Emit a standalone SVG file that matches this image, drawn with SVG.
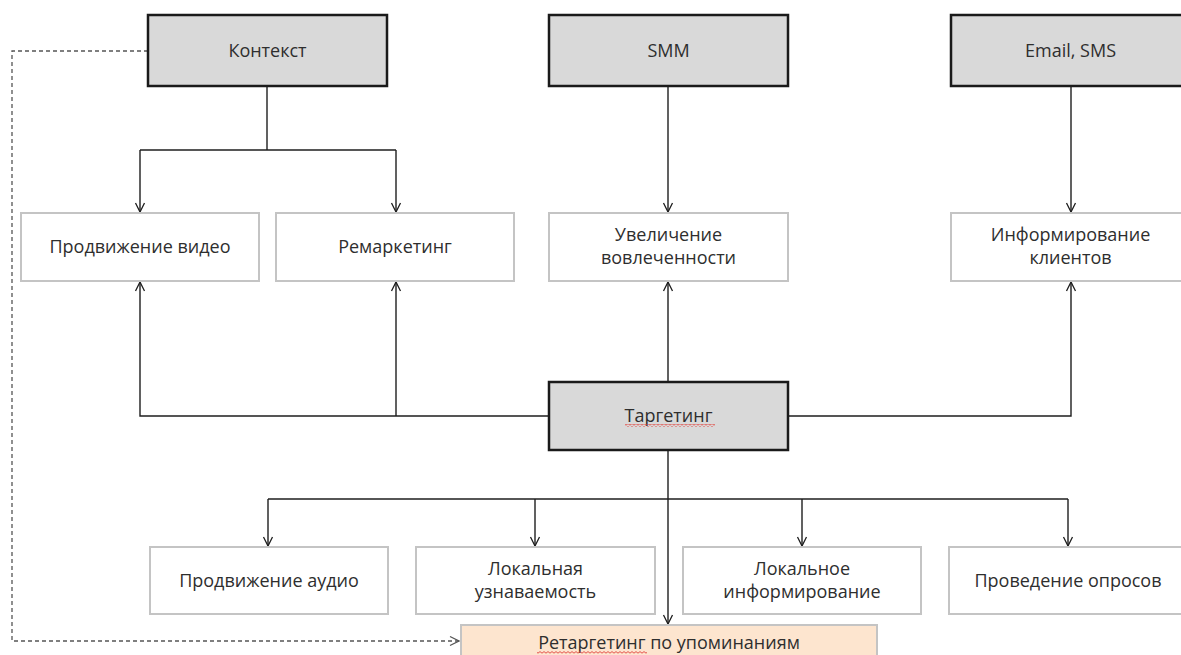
<svg xmlns="http://www.w3.org/2000/svg" width="1181" height="655" viewBox="0 0 1181 655">
  <style>
    .main rect { fill: #d9d9d9; stroke: #1a1a1a; stroke-width: 2.5; }
    .item rect { fill: #ffffff; stroke: #c4c4c4; stroke-width: 2; }
    .accent rect { fill: #fde5cf; stroke: #c4c4c4; stroke-width: 2; }
    text { font-family: "Open Sans", "Liberation Sans", sans-serif; font-size: 18px; fill: #2e2e2e; text-anchor: middle; }
    .wire { fill: none; stroke: #1e1e1e; stroke-width: 1.4; }
    .dash { fill: none; stroke: #555555; stroke-width: 1.3; stroke-dasharray: 4 3; }
    rect.spell { fill: url(#wave); stroke: none; }
  </style>
  <defs>
    <marker id="open" viewBox="0 0 12 12" refX="11" refY="6" markerWidth="12" markerHeight="12" markerUnits="userSpaceOnUse" orient="auto">
      <polyline points="2,1.5 11,6 2,10.5" fill="none" stroke="#1e1e1e" stroke-width="1.3"/>
    </marker>
    <marker id="openGrey" viewBox="0 0 12 12" refX="11" refY="6" markerWidth="12" markerHeight="12" markerUnits="userSpaceOnUse" orient="auto">
      <polyline points="2,1.5 11,6 2,10.5" fill="none" stroke="#555555" stroke-width="1.3"/>
    </marker>
    <!-- wavy spell-check underline, 2px per half wave -->
    <pattern id="wave" x="0" y="0" width="4" height="3" patternUnits="userSpaceOnUse">
      <polyline points="0,0.6 2,2.2 4,0.6" fill="none" stroke="#e0403a" stroke-width="0.9"/>
    </pattern>
  </defs>

  <!-- connectors -->
  <g id="connectors">
    <!-- Контекст branches -->
    <path class="wire" d="M267,86 V150"/>
    <path class="wire" d="M140,150 H396"/>
    <path class="wire" d="M140,150 V212" marker-end="url(#open)"/>
    <path class="wire" d="M396,150 V212" marker-end="url(#open)"/>
    <!-- SMM and Email -->
    <path class="wire" d="M668,86 V212" marker-end="url(#open)"/>
    <path class="wire" d="M1071,86 V212" marker-end="url(#open)"/>
    <!-- Таргетинг upwards -->
    <path class="wire" d="M549,416 H140 V282" marker-end="url(#open)"/>
    <path class="wire" d="M396,416 V282" marker-end="url(#open)"/>
    <path class="wire" d="M668,382 V282" marker-end="url(#open)"/>
    <path class="wire" d="M788,416 H1071 V282" marker-end="url(#open)"/>
    <!-- Таргетинг downwards -->
    <path class="wire" d="M668,450 V624" marker-end="url(#open)"/>
    <path class="wire" d="M268,499 H1068"/>
    <path class="wire" d="M268,499 V546" marker-end="url(#open)"/>
    <path class="wire" d="M535,499 V546" marker-end="url(#open)"/>
    <path class="wire" d="M802,499 V546" marker-end="url(#open)"/>
    <path class="wire" d="M1068,499 V546" marker-end="url(#open)"/>
    <!-- Контекст to retargeting, dashed -->
    <path class="dash" d="M148,51 H12 V641 H459" marker-end="url(#openGrey)"/>
  </g>

  <!-- top row -->
  <g id="context" class="main">
    <rect x="148" y="15" width="239" height="71"/>
    <text x="267.5" y="57">Контекст</text>
  </g>
  <g id="smm" class="main">
    <rect x="549" y="15" width="239" height="71"/>
    <text x="668.5" y="57">SMM</text>
  </g>
  <g id="email-sms" class="main">
    <rect x="951" y="15" width="239" height="71"/>
    <text x="1070.5" y="57">Email, SMS</text>
  </g>

  <!-- second row -->
  <g id="video" class="item">
    <rect x="21" y="213" width="238" height="68"/>
    <text x="140" y="253">Продвижение видео</text>
  </g>
  <g id="remarketing" class="item">
    <rect x="276" y="213" width="238" height="68"/>
    <text x="395" y="253">Ремаркетинг</text>
  </g>
  <g id="engagement" class="item">
    <rect x="549" y="213" width="239" height="68"/>
    <text x="668.5" y="241">Увеличение</text>
    <text x="668.5" y="264">вовлеченности</text>
  </g>
  <g id="informing" class="item">
    <rect x="951" y="213" width="239" height="68"/>
    <text x="1070.5" y="241">Информирование</text>
    <text x="1070.5" y="264">клиентов</text>
  </g>

  <!-- targeting hub -->
  <g id="targeting" class="main">
    <rect x="549" y="382" width="239" height="68"/>
    <text x="668.5" y="422">Таргетинг</text>
  </g>
  <rect class="spell" x="625" y="424" width="90" height="3"/>

  <!-- bottom row -->
  <g id="audio" class="item">
    <rect x="150" y="547" width="238" height="67"/>
    <text x="269" y="587">Продвижение аудио</text>
  </g>
  <g id="local-awareness" class="item">
    <rect x="416" y="547" width="239" height="67"/>
    <text x="535.5" y="575">Локальная</text>
    <text x="535.5" y="598">узнаваемость</text>
  </g>
  <g id="local-informing" class="item">
    <rect x="683" y="547" width="238" height="67"/>
    <text x="802" y="575">Локальное</text>
    <text x="802" y="598">информирование</text>
  </g>
  <g id="polls" class="item">
    <rect x="949" y="547" width="239" height="67"/>
    <text x="1068" y="587">Проведение опросов</text>
  </g>

  <!-- retargeting -->
  <g id="retargeting" class="accent">
    <rect x="461" y="625" width="416" height="45"/>
    <text x="669" y="649">Ретаргетинг по упоминаниям</text>
  </g>
  <rect class="spell" x="537" y="651" width="110" height="3"/>
</svg>
